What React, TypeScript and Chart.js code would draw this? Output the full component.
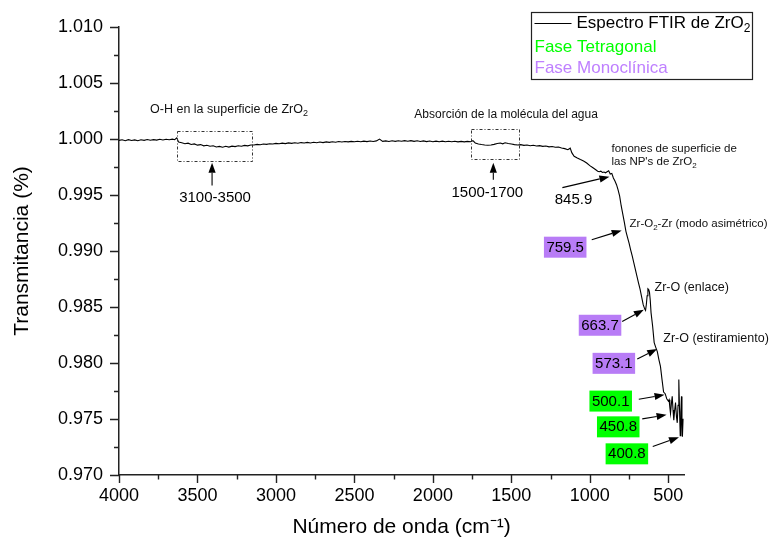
import React, { useEffect, useRef } from "react";
import { Chart, registerables } from "chart.js";

Chart.register(...registerables);

const FONT = '"Liberation Sans", Arial, Helvetica, sans-serif';

// ---- Spectrum data (wavenumber cm-1 / transmittance) ----
const wavenumbers = [
  4000, 3980, 3960, 3940, 3920, 3900, 3880, 3860, 3840, 3820, 3800, 3780, 3760, 3740, 3720, 3700, 3680, 3660, 3645, 3632,
  3620, 3600, 3580, 3560, 3540, 3520, 3500, 3480, 3460, 3440, 3420, 3400, 3380, 3360, 3340, 3320, 3300, 3280, 3260, 3240,
  3220, 3200, 3180, 3160, 3140, 3120, 3100, 3080, 3060, 3040, 3020, 3000, 2980, 2960, 2940, 2920, 2900, 2880, 2860, 2840,
  2820, 2800, 2780, 2760, 2740, 2720, 2700, 2680, 2660, 2640, 2620, 2600, 2580, 2560, 2540, 2520, 2500, 2480, 2460, 2440,
  2420, 2400, 2380, 2360, 2340, 2320, 2300, 2280, 2260, 2240, 2220, 2200, 2180, 2160, 2140, 2120, 2100, 2080, 2060, 2040,
  2020, 2000, 1980, 1960, 1940, 1920, 1900, 1880, 1860, 1840, 1820, 1800, 1780, 1760, 1745, 1730, 1710, 1690, 1670, 1650,
  1630, 1610, 1590, 1570, 1555, 1540, 1520, 1500, 1480, 1460, 1440, 1420, 1400, 1380, 1360, 1340, 1320, 1300, 1280, 1260,
  1240, 1220, 1200, 1180, 1160, 1140, 1125, 1115, 1100, 1080, 1060, 1040, 1020, 1000, 980, 960, 950, 940, 930, 920,
  910, 900, 890, 880, 870, 860, 850, 840, 830, 820, 810, 800, 790, 780, 770, 760, 750, 740, 730, 720,
  710, 700, 690, 680, 670, 660, 650, 645, 640, 635, 630, 625, 620, 615, 610, 600, 590, 580, 570, 560,
  550, 540, 530, 520, 510, 500, 495, 490, 486, 480, 475, 470, 465, 460, 454, 448, 443, 438, 433, 428,
  424, 420, 416, 413, 410, 406,
];

const transmittance = [
  0.99988, 0.99993, 0.99985, 0.99994, 0.99987, 0.99992, 0.99984, 0.99993, 0.99988, 0.99996, 0.99989, 0.99994, 0.9999, 0.99997, 0.99991, 0.99998, 0.99993, 0.99999, 0.99994, 1.0001,
  0.99972, 0.99966, 0.99958, 0.99963, 0.99951, 0.99956, 0.99945, 0.9995, 0.99939, 0.99944, 0.99935, 0.9994, 0.99929, 0.99934, 0.99927, 0.99935, 0.99928, 0.99936, 0.99932, 0.9994,
  0.99935, 0.99943, 0.99939, 0.99946, 0.99947, 0.99952, 0.99949, 0.99955, 0.99952, 0.99958, 0.99955, 0.99961, 0.99957, 0.99963, 0.99959, 0.99965, 0.99961, 0.99966, 0.99962, 0.99968,
  0.99964, 0.9997, 0.99965, 0.99971, 0.99967, 0.99973, 0.99968, 0.99974, 0.9997, 0.99976, 0.99971, 0.99977, 0.99973, 0.99978, 0.99974, 0.99979, 0.99975, 0.9998, 0.99976, 0.99981,
  0.99977, 0.99982, 0.99978, 0.99983, 0.99999, 0.99979, 0.99983, 0.99978, 0.99984, 0.99979, 0.99984, 0.9998, 0.99985, 0.9998, 0.99985, 0.99979, 0.99984, 0.99978, 0.99983, 0.99977,
  0.99982, 0.99976, 0.99981, 0.99976, 0.99981, 0.99975, 0.9998, 0.99975, 0.9998, 0.99974, 0.99979, 0.99974, 0.99979, 0.99975, 0.99985, 0.99965, 0.99956, 0.99951, 0.99947, 0.99944,
  0.99946, 0.99952, 0.9996, 0.99964, 0.99957, 0.99966, 0.9996, 0.99955, 0.9995, 0.99946, 0.9995, 0.99943, 0.99947, 0.9994, 0.99944, 0.99937, 0.99941, 0.99934, 0.99937, 0.9993,
  0.99933, 0.99926, 0.99929, 0.9992, 0.99914, 0.99904, 0.99918, 0.99878, 0.99846, 0.9983, 0.99816, 0.99803, 0.99786, 0.99762, 0.99743, 0.99723, 0.99713, 0.99708, 0.99713, 0.99701,
  0.99705, 0.99698, 0.99707, 0.99716, 0.99688, 0.99693, 0.99652, 0.99625, 0.99592, 0.99546, 0.9949, 0.99402, 0.9933, 0.99256, 0.99176, 0.99121, 0.9907, 0.99011, 0.98956, 0.98896,
  0.98836, 0.98776, 0.98716, 0.9866, 0.9859, 0.98521, 0.98481, 0.9847, 0.98522, 0.986, 0.98662, 0.98655, 0.98632, 0.9856, 0.9845, 0.9833, 0.98182, 0.9814, 0.98101, 0.98031,
  0.9797, 0.97851, 0.97741, 0.97726, 0.97681, 0.97661, 0.97672, 0.97601, 0.9755, 0.97642, 0.97702, 0.97581, 0.9749, 0.97571, 0.97646, 0.97521, 0.97466, 0.97622, 0.97852, 0.97551,
  0.97351, 0.97561, 0.97702, 0.97451, 0.97341, 0.97502,
];

// ---- Axis ticks ----
const xMajorTicks = [4000, 3500, 3000, 2500, 2000, 1500, 1000, 500];
const xMinorTicks = [3750, 3250, 2750, 2250, 1750, 1250, 750];
const yMajorTicks = [0.97, 0.975, 0.98, 0.985, 0.99, 0.995, 1.0, 1.005, 1.01];
const yMinorTicks = [0.9725, 0.9775, 0.9825, 0.9875, 0.9925, 0.9975, 1.0025, 1.0075];

// ---- Annotations (data coordinates) ----
const regionBoxes = [
  { x1: 3632, x2: 3154, y1: 1.00075, y2: 0.99807 },
  { x1: 1755, x2: 1453, y1: 1.00093, y2: 0.99825 },
];

const bandLabels = [
  { text: "3100-3500", phase: "none", lx: 3388, ly: 0.99476, ax: 3407, ay: 0.99584, bx: 3407, by: 0.99789 },
  { text: "1500-1700", phase: "none", lx: 1653, ly: 0.99521, ax: 1615, ay: 0.99637, bx: 1615, by: 0.99789 },
  { text: "845.9", phase: "none", lx: 1104, ly: 0.99458, ax: 1175, ay: 0.99566, bx: 875, by: 0.99664 },
  { text: "759.5", phase: "mono", lx: 1157, ly: 0.99034, ax: 988, ay: 0.991, bx: 797, by: 0.99184 },
  { text: "663.7", phase: "mono", lx: 935, ly: 0.98337, ax: 794, ay: 0.98371, bx: 656, by: 0.98476 },
  { text: "573.1", phase: "mono", lx: 847, ly: 0.97997, ax: 698, ay: 0.98035, bx: 571, by: 0.98124 },
  { text: "500.1", phase: "tetra", lx: 867, ly: 0.9766, ax: 688, ay: 0.97677, bx: 524, by: 0.97716 },
  { text: "450.8", phase: "tetra", lx: 819, ly: 0.9743, ax: 666, ay: 0.97501, bx: 511, by: 0.97537 },
  { text: "400.8", phase: "tetra", lx: 764, ly: 0.97189, ax: 599, ay: 0.97254, bx: 432, by: 0.97338 },
];

type Seg = { t: string; s?: "sub" | "sup" };

const notes: { segs: Seg[]; x: number; y: number; size: number }[] = [
  { segs: [{ t: "O-H en la superficie de ZrO" }, { t: "2", s: "sub" }], x: 3802, y: 1.00263, size: 12.5 },
  { segs: [{ t: "Absorción de la molécula del agua" }], x: 2118, y: 1.00218, size: 12 },
  { segs: [{ t: "fonones de superficie de" }], x: 862, y: 0.99915, size: 11.5 },
  { segs: [{ t: "las NP's de ZrO" }, { t: "2", s: "sub" }], x: 862, y: 0.99795, size: 11.5 },
  { segs: [{ t: "Zr-O" }, { t: "2", s: "sub" }, { t: "-Zr (modo asimétrico)" }], x: 747, y: 0.99241, size: 11.5 },
  { segs: [{ t: "Zr-O (enlace)" }], x: 588, y: 0.98678, size: 12.5 },
  { segs: [{ t: "Zr-O (estiramiento)" }], x: 532, y: 0.98222, size: 12.5 },
];

const seriesName: Seg[] = [{ t: "Espectro FTIR de ZrO" }, { t: "2", s: "sub" }];
const tetraName = "Fase Tetragonal";
const monoName = "Fase Monoclínica";

const GREEN = "#00ff00";
const PURPLE = "#b87cf6";
const PURPLE_TEXT = "#bf80ff";
const AXIS = "#222222";

function drawRich(ctx: CanvasRenderingContext2D, segs: Seg[], x: number, y: number, size: number, color: string, align: "left" | "center" = "left") {
  const widths = segs.map((s) => {
    ctx.font = `${s.s ? Math.round(size * 0.68) : size}px ${FONT}`;
    return ctx.measureText(s.t).width;
  });
  const total = widths.reduce((a, b) => a + b, 0);
  let cx = align === "center" ? x - total / 2 : x;
  ctx.fillStyle = color;
  ctx.textAlign = "left";
  ctx.textBaseline = "middle";
  segs.forEach((s, i) => {
    ctx.font = `${s.s ? Math.round(size * 0.68) : size}px ${FONT}`;
    const dy = s.s === "sub" ? size * 0.32 : s.s === "sup" ? -size * 0.35 : 0;
    ctx.fillText(s.t, cx, y + dy);
    cx += widths[i];
  });
}

function drawArrow(ctx: CanvasRenderingContext2D, x1: number, y1: number, x2: number, y2: number) {
  const ang = Math.atan2(y2 - y1, x2 - x1);
  const hl = 10;
  const hw = 3.6;
  const bx = x2 - hl * Math.cos(ang);
  const by = y2 - hl * Math.sin(ang);
  ctx.strokeStyle = "#000";
  ctx.lineWidth = 1.1;
  ctx.beginPath();
  ctx.moveTo(x1, y1);
  ctx.lineTo(bx, by);
  ctx.stroke();
  ctx.fillStyle = "#000";
  ctx.beginPath();
  ctx.moveTo(x2, y2);
  ctx.lineTo(bx + hw * Math.sin(ang), by - hw * Math.cos(ang));
  ctx.lineTo(bx - hw * Math.sin(ang), by + hw * Math.cos(ang));
  ctx.closePath();
  ctx.fill();
}

const annotationPlugin = {
  id: "ftirAnnotations",
  afterDraw(chart: any) {
    const { ctx, chartArea } = chart;
    const xs = chart.scales.x;
    const ys = chart.scales.y;
    const px = (v: number) => xs.getPixelForValue(v);
    const py = (v: number) => ys.getPixelForValue(v);
    ctx.save();

    // tick marks (outward, major + minor)
    ctx.strokeStyle = AXIS;
    ctx.lineWidth = 1.4;
    ctx.beginPath();
    xMajorTicks.forEach((v) => {
      const p = Math.round(px(v)) + 0.5;
      ctx.moveTo(p, chartArea.bottom);
      ctx.lineTo(p, chartArea.bottom + 8);
    });
    xMinorTicks.forEach((v) => {
      const p = Math.round(px(v)) + 0.5;
      ctx.moveTo(p, chartArea.bottom);
      ctx.lineTo(p, chartArea.bottom + 4.5);
    });
    yMajorTicks.forEach((v) => {
      const p = Math.round(py(v)) + 0.5;
      ctx.moveTo(chartArea.left, p);
      ctx.lineTo(chartArea.left - 9, p);
    });
    yMinorTicks.forEach((v) => {
      const p = Math.round(py(v)) + 0.5;
      ctx.moveTo(chartArea.left, p);
      ctx.lineTo(chartArea.left - 5, p);
    });
    ctx.stroke();

    // dashed region boxes
    ctx.strokeStyle = "#333";
    ctx.lineWidth = 1;
    ctx.setLineDash([3, 2, 1, 2]);
    regionBoxes.forEach((b) => {
      const x1 = Math.round(px(b.x1)) + 0.5;
      const x2 = Math.round(px(b.x2)) + 0.5;
      const y1 = Math.round(py(b.y1)) + 0.5;
      const y2 = Math.round(py(b.y2)) + 0.5;
      ctx.strokeRect(x1, y1, x2 - x1, y2 - y1);
    });
    ctx.setLineDash([]);

    // notes
    notes.forEach((n) => drawRich(ctx, n.segs, px(n.x), py(n.y), n.size, "#111"));

    // band labels + arrows
    bandLabels.forEach((b) => {
      drawArrow(ctx, px(b.ax), py(b.ay), px(b.bx), py(b.by));
      const cx = px(b.lx);
      const cy = py(b.ly);
      ctx.font = `15px ${FONT}`;
      if (b.phase !== "none") {
        const w = ctx.measureText(b.text).width + 5;
        ctx.fillStyle = b.phase === "mono" ? PURPLE : GREEN;
        ctx.fillRect(cx - w / 2, cy - 10.5, w, 21);
      }
      ctx.fillStyle = "#000";
      ctx.textAlign = "center";
      ctx.textBaseline = "middle";
      ctx.fillText(b.text, cx, cy + 0.5);
    });

    // legend
    const L = { x: 531.5, y: 12.5, w: 221, h: 67 };
    ctx.strokeStyle = "#222";
    ctx.lineWidth = 1.2;
    ctx.strokeRect(L.x, L.y, L.w, L.h);
    ctx.strokeStyle = "#000";
    ctx.lineWidth = 1.2;
    ctx.beginPath();
    ctx.moveTo(L.x + 3, L.y + 11);
    ctx.lineTo(L.x + 40, L.y + 11);
    ctx.stroke();
    drawRich(ctx, seriesName, L.x + 45, L.y + 11, 17, "#000");
    drawRich(ctx, [{ t: tetraName }], L.x + 3, L.y + 34.5, 17, GREEN);
    drawRich(ctx, [{ t: monoName }], L.x + 3, L.y + 56, 17, PURPLE_TEXT);

    ctx.restore();
  },
};

export default function App() {
  const ref = useRef<HTMLCanvasElement>(null);

  useEffect(() => {
    const canvas = ref.current;
    if (!canvas) return;
    const chart = new Chart(canvas, {
      type: "line",
      data: {
        datasets: [
          {
            label: "Espectro FTIR de ZrO2",
            data: wavenumbers.map((w, i) => ({ x: w, y: transmittance[i] })),
            borderColor: "#000",
            borderWidth: 1.1,
            pointRadius: 0,
            tension: 0,
            fill: false,
          },
        ],
      },
      options: {
        animation: false,
        responsive: false,
        devicePixelRatio: 1,
        layout: { padding: { left: 0, right: 87, top: 27, bottom: 0 } },
        plugins: { legend: { display: false }, tooltip: { enabled: false } },
        scales: {
          x: {
            type: "linear",
            min: 400,
            max: 4000,
            reverse: true,
            afterBuildTicks: (s: any) => {
              s.ticks = xMajorTicks.map((value) => ({ value }));
            },
            afterFit: (s: any) => {
              s.height = 71;
            },
            grid: { display: false, drawTicks: false },
            border: { display: true, color: AXIS, width: 1.5 },
            ticks: {
              color: "#000",
              font: { family: FONT, size: 18 },
              padding: 10,
              maxRotation: 0,
              autoSkip: false,
              callback: (v: any) => String(v),
            },
            title: {
              display: true,
              text: "Número de onda (cm⁻¹)",
              color: "#000",
              font: { family: FONT, size: 21 },
              padding: { top: 0, bottom: 6 },
            },
          },
          y: {
            type: "linear",
            min: 0.97,
            max: 1.01,
            afterBuildTicks: (s: any) => {
              s.ticks = yMajorTicks.map((value) => ({ value }));
            },
            afterFit: (s: any) => {
              s.width = 119;
            },
            grid: { display: false, drawTicks: false },
            border: { display: true, color: AXIS, width: 1.5 },
            ticks: {
              color: "#000",
              font: { family: FONT, size: 18 },
              padding: 16,
              autoSkip: false,
              callback: (v: any) => Number(v).toFixed(3),
            },
            title: {
              display: true,
              text: "Transmitancia (%)",
              color: "#000",
              font: { family: FONT, size: 21 },
              padding: { top: 10, bottom: 0 },
            },
          },
        },
      },
      plugins: [annotationPlugin],
    });
    return () => chart.destroy();
  }, []);

  return (
    <div style={{ position: "absolute", left: 0, top: 0, width: 771, height: 546, background: "#fff" }}>
      <canvas ref={ref} width={771} height={546} style={{ display: "block", width: 771, height: 546 }} />
    </div>
  );
}
